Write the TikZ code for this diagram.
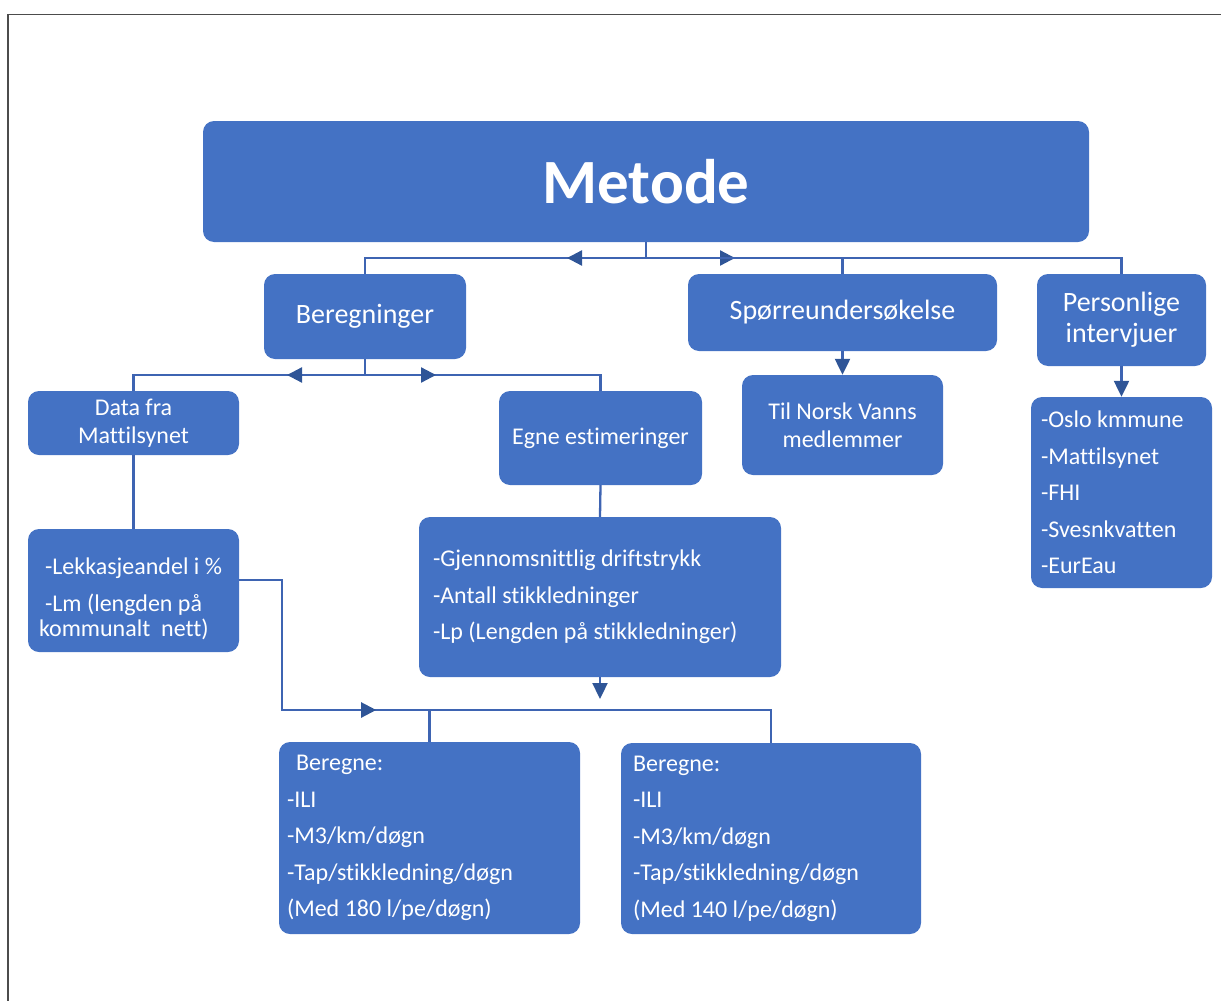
\documentclass[tikz,border=0pt]{standalone}
\usepackage{fontspec}
\setmainfont{Carlito}[Ligatures=NoCommon]
\usetikzlibrary{arrows.meta,decorations.markings}
\definecolor{boxblue}{HTML}{4472C4}
\definecolor{linkblue}{RGB}{62,100,178}
\definecolor{tipblue}{HTML}{2F5597}
\tikzset{
	box/.style={fill=boxblue, rounded corners=11pt, text=white, inner sep=0pt},
	headbox/.style={box, font=\fontsize{28}{31}\selectfont, align=center},
	subbox/.style={box, font=\fontsize{24}{27.5}\selectfont, align=center},
	listbox/.style={box, font=\fontsize{24}{27.5}\selectfont, align=flush left},
	link/.style={draw=linkblue, line width=2.3pt},
	tipend/.style={-{Triangle[width=15pt,length=16pt,color=tipblue]}},
	midarrow/.style={postaction={decorate, decoration={markings,
		mark=at position #1 with {\arrow{Triangle[width=15pt,length=15pt,color=tipblue]}}}}}
}
\begin{document}
\begin{tikzpicture}[x=1pt,y=-1pt]
			\useasboundingbox (0,0) rectangle (1221,1001);
			\draw [gray!60!black, line width=1.4pt] (8,1001) |- (1221,14.5);
			% top level
			\node [box, minimum width=886, minimum height=121, font=\fontsize{63}{70}\selectfont\bfseries]
				(metode) at (646,181.5) {Metode};
			\node [headbox, minimum width=202, minimum height=85] (beregn) at (365,316.5) {Beregninger};
			\node [headbox, minimum width=309, minimum height=77] (spor) at (842.5,312.5) {Spørreundersøkelse};
			\node [headbox, minimum width=169, minimum height=92] (pers) at (1121.5,320) {Personlige\\intervjuer};
			% second level
			\node [subbox, minimum width=211, minimum height=64] (data) at (133.5,423) {Data fra\\Mattilsynet};
			\node [subbox, minimum width=203, minimum height=94] (egne) at (600.5,438) {Egne estimeringer};
			\node [subbox, minimum width=201, minimum height=100] (norsk) at (842.5,425) {Til Norsk Vanns\\medlemmer};
			\node [listbox, text width=161, inner xsep=10, minimum height=191] (oslo) at (1121.5,492.5)
				{-Oslo kmmune\\[9pt]-Mattilsynet\\[9pt]-FHI\\[9pt]-Svesnkvatten\\[9pt]-EurEau};
			% data boxes
			\node [listbox, text width=189, inner xsep=11, minimum height=123] (lekk) at (133.5,590.5)
				{\rule{0pt}{33pt}\hspace*{6pt}-Lekkasjeandel i \%\\[9.5pt]\hspace*{6pt}-Lm (lengden på\\[-2.5pt]kommunalt\ \ nett)};
			\node [listbox, text width=334, inner xsep=14, minimum height=160] (gjen) at (600,597)
				{-Gjennomsnittlig driftstrykk\\[9pt]-Antall stikkledninger\\[9pt]-Lp (Lengden på stikkledninger)};
			\node [listbox, text width=285, inner xsep=8, minimum height=192] (ber180) at (429.5,838)
				{\hspace*{9pt}Beregne:\\[9pt]-ILI\\[9pt]-M3/km/døgn\\[9pt]-Tap/stikkledning/døgn\\[9pt](Med 180 l/pe/døgn)};
			\node [listbox, text width=276, inner xsep=12, minimum height=191] (ber140) at (771,838.5)
				{Beregne:\\[9pt]-ILI\\[9pt]-M3/km/døgn\\[9pt]-Tap/stikkledning/døgn\\[9pt](Med 140 l/pe/døgn)};
			% connectors
			\coordinate (jm) at (646,258);
			\coordinate (jr) at (365,375);
			\coordinate (jb) at (600,710);
			\draw [link] (metode.south) -- (jm);
			\draw [link, midarrow=79pt] (jm) -| (beregn.north);
			\draw [link, midarrow=89pt] (jm) -| (pers.north);
			\draw [link] (jm) -| (spor.north);
			\draw [link] (beregn.south) -- (jr);
			\draw [link, midarrow=78pt] (jr) -| (data.north);
			\draw [link, midarrow=71pt] (jr) -| (egne.north);
			\draw [link, tipend] (spor.south) -- (norsk.north);
			\draw [link, tipend] (pers.south) -- (oslo.north);
			\draw [link] (data.south) -- (lekk.north);
			\draw [link] (egne.south) -- (gjen.north);
			\draw [link, midarrow=267pt] ([yshift=10.5pt]lekk.east) -- ++(43,0) |- (jb);
			\draw [link, tipend, shorten >=11pt] (gjen.south) -- (jb);
			\draw [link] (ber180.north) |- (jb) -| (ber140.north);
\end{tikzpicture}
\end{document}
